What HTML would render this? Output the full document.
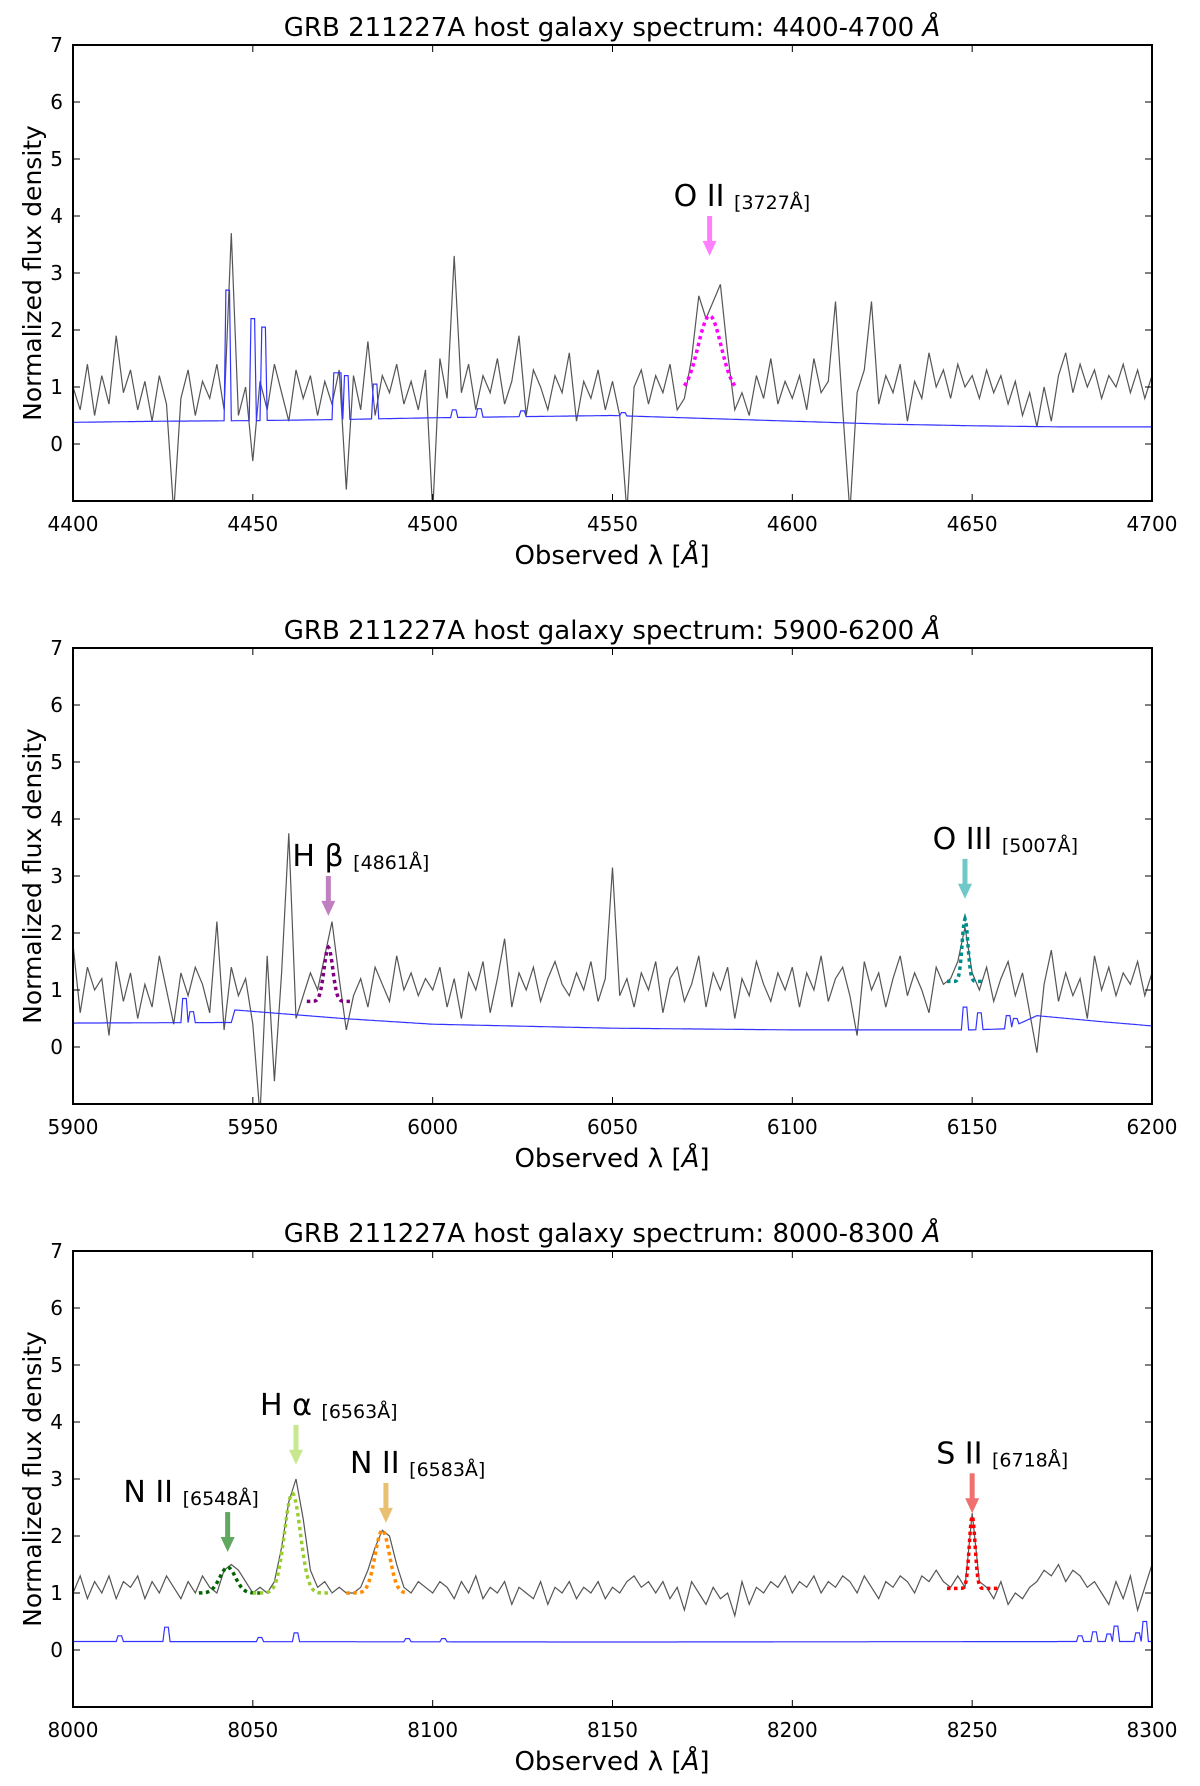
<!DOCTYPE html>
<html><head><meta charset="utf-8"><style>
html,body{margin:0;padding:0;background:#fff;}
svg{display:block;font-family:"DejaVu Sans","Liberation Sans",sans-serif;}
</style></head>
<body>
<svg id="fig" width="1200" height="1786" viewBox="0 0 1200 1786" xmlns="http://www.w3.org/2000/svg"></svg>
<script>
// ---------- data ----------
const xRanges = [[4400,4700],[5900,6200],[8000,8300]];
const fluxStart = [4400,5900,8000];
const fluxStep = 2;
const flux1 = [1.0,0.6,1.4,0.5,1.2,0.7,1.9,0.9,1.3,0.6,1.1,0.4,1.2,0.7,-1.2,0.8,1.3,0.5,1.1,0.8,1.4,0.6,3.7,0.5,1.0,
-0.3,1.1,0.6,1.4,0.9,0.4,1.3,0.8,1.2,0.5,1.1,0.7,1.3,-0.8,1.2,0.6,1.8,0.5,1.2,0.9,1.4,0.7,1.1,0.6,1.3,
-1.2,1.5,0.8,3.3,0.9,1.4,0.6,1.2,0.9,1.5,0.7,1.1,1.9,0.5,1.3,1.0,0.6,1.2,0.9,1.6,0.4,1.1,0.8,1.3,0.6,
1.1,0.5,-1.2,1.0,1.3,0.7,1.2,0.9,1.4,0.6,0.8,1.5,2.6,2.2,2.5,2.8,1.6,0.6,0.9,0.5,1.2,0.8,1.5,0.7,1.1,
0.8,1.2,0.6,1.5,0.9,1.1,2.5,0.6,-1.2,0.9,1.3,2.5,0.7,1.2,0.9,1.4,0.4,1.1,0.8,1.6,1.0,1.3,0.8,1.4,1.0,
1.2,0.8,1.3,0.9,1.2,0.7,1.1,0.5,0.9,0.3,1.0,0.4,1.2,1.6,0.9,1.4,1.0,1.3,0.8,1.2,1.0,1.4,0.9,1.3,0.8,1.2];
const flux2 = [1.8,0.6,1.4,1.0,1.2,0.2,1.5,0.8,1.3,0.5,1.1,0.7,1.6,1.0,0.4,1.3,0.9,1.4,1.1,0.6,2.2,0.3,1.4,0.9,1.2,
0.4,-1.2,1.6,-0.6,1.3,3.75,0.5,0.9,1.3,1.0,1.6,2.2,1.2,0.3,0.9,1.2,0.7,1.4,1.1,0.8,1.6,1.0,1.3,0.9,1.2,
1.0,1.4,0.7,1.2,0.5,1.3,1.0,1.5,0.6,1.2,1.9,0.7,1.3,1.0,1.4,0.8,1.2,1.5,1.1,0.9,1.3,1.0,1.5,0.8,1.2,
3.15,0.9,1.2,0.7,1.3,1.0,1.5,0.6,1.2,1.4,0.8,1.1,1.6,0.7,1.3,1.0,1.4,0.5,1.2,0.9,1.5,1.1,0.8,1.3,1.0,
1.4,0.7,1.3,1.0,1.6,0.8,1.2,1.4,0.9,0.2,1.5,1.0,1.3,0.7,1.2,1.6,0.9,1.3,1.0,0.6,1.4,1.1,1.2,1.5,2.1,
1.3,1.0,1.4,0.8,1.2,1.5,0.9,1.3,0.6,-0.1,1.1,1.7,0.8,1.3,0.9,1.2,0.5,1.6,1.0,1.4,0.9,1.3,1.1,1.5,0.9,1.3];
const flux3 = [1.0,1.3,0.9,1.2,1.0,1.3,0.9,1.2,1.1,1.3,0.9,1.2,1.0,1.3,1.1,0.9,1.2,1.0,1.3,1.1,1.0,1.4,1.5,1.4,1.2,
1.0,1.1,1.0,1.2,1.8,2.6,3.0,2.3,1.4,1.1,1.2,1.0,1.1,1.0,1.0,1.1,1.4,1.8,2.1,2.0,1.5,1.1,1.0,1.2,1.1,
1.0,1.2,1.1,0.9,1.2,1.0,1.3,0.9,1.1,1.0,1.2,0.8,1.1,1.0,0.9,1.2,0.8,1.1,1.0,1.2,0.9,1.1,1.0,1.2,0.9,
1.1,1.0,1.2,1.3,1.1,1.2,1.0,1.2,0.9,1.1,0.7,1.2,1.0,0.8,1.1,0.9,1.0,0.6,1.2,0.8,1.1,1.0,1.2,1.1,1.3,
1.0,1.2,1.1,1.3,1.0,1.2,1.1,1.3,1.2,1.0,1.3,1.1,0.9,1.2,1.1,1.3,1.2,1.0,1.3,1.2,1.4,1.2,1.1,1.3,1.1,
2.4,1.2,1.1,0.9,1.2,0.8,1.0,0.9,1.1,1.2,1.4,1.3,1.5,1.2,1.4,1.3,1.1,1.2,1.0,0.8,1.2,0.9,1.3,0.7,1.1,1.5];
// sky continuum
const skyWave1 = [4400,4425,4450,4475,4500,4525,4550,4575,4600,4625,4650,4675,4700];
const skyFlux1 = [0.38,0.40,0.41,0.43,0.46,0.48,0.50,0.45,0.40,0.35,0.32,0.30,0.30];
const skyWave2 = [5900,5944,5945,5975,6000,6050,6100,6150,6160,6168,6185,6200];
const skyFlux2 = [0.42,0.43,0.65,0.50,0.40,0.33,0.30,0.30,0.32,0.55,0.45,0.37];
const skyWave3 = [8000,8150,8300];
const skyFlux3 = [0.15,0.14,0.15];
// sky lines
const skyLineW1 = [4443,4450,4453,4473,4474,4476,4484,4506,4513,4525,4553];
const skyLineH1 = [2.7,2.2,2.05,1.25,1.25,1.2,1.05,0.6,0.62,0.58,0.55];
const skyLineW2 = [5931,5933,6148,6152,6160,6162];
const skyLineH2 = [0.85,0.62,0.7,0.6,0.55,0.5];
const skyLineW3 = [8013,8026,8052,8062,8093,8103,8280,8284,8288,8290,8296,8298];
const skyLineH3 = [0.25,0.4,0.22,0.3,0.2,0.2,0.25,0.32,0.28,0.42,0.3,0.5];
// line fits
const fitPanel = [0,1,1,2,2,2,2];
const fitCenter = [4577,5971,6148,8043,8061,8086,8250];
const fitPeak = [2.25,1.75,2.25,1.45,2.75,2.1,2.35];
const fitSigma = [3.2,1.2,0.8,2.2,2.2,2.0,0.8];
const fitBase = [0.9,0.8,1.15,1.0,1.0,1.0,1.08];
const fitLo = [4570,5965,6143,8035,8050,8076,8243];
const fitHi = [4584,5977,6153,8052,8072,8093,8257];
const fitColor = ["#ff00ff","#800080","#008b8b","#006400","#9acd32","#ff8c00","#ff0000"];
// annotations
const annName = ["O II","H β","O III","N II","H α","N II","S II"];
const annRest = ["[3727Å]","[4861Å]","[5007Å]","[6548Å]","[6563Å]","[6583Å]","[6718Å]"];
const annWave = [4577,5971,6148,8043,8062,8087,8250];
const annTop = [4.0,3.0,3.3,2.42,3.95,2.93,3.1];
const annTextX = [4567,5961,6139,8014,8052,8077,8240];
const annColor = ["#ff80ff","#c080c0","#70c8c8","#60a860","#c8e890","#e8c070","#f07070"];
const yTicks = [0,1,2,3,4,5,6,7];

// ---------- layout ----------
const NS="http://www.w3.org/2000/svg";
const svg=document.getElementById('fig');
const L=73, R=1152, H=456, tops=[45,648,1251], YMIN=-1, YMAX=7;
function mk(tag,attrs,parent){const e=document.createElementNS(NS,tag);for(const k in attrs)e.setAttribute(k,attrs[k]);(parent||svg).appendChild(e);return e;}
const fluxes=[flux1,flux2,flux3];
const skyW=[skyWave1,skyWave2,skyWave3], skyF=[skyFlux1,skyFlux2,skyFlux3];
const slW=[skyLineW1,skyLineW2,skyLineW3], slH=[skyLineH1,skyLineH2,skyLineH3];

for(let p=0;p<3;p++){
  const T=tops[p], B=T+H, x0=xRanges[p][0], x1=xRanges[p][1];
  const X=v=>L+(v-x0)/(x1-x0)*(R-L);
  const Y=v=>B-(v-YMIN)/(YMAX-YMIN)*H;
  const g=mk('g',{});
  
  
  const cp=mk('clipPath',{id:'clip'+p},g);
  mk('rect',{x:L,y:T,width:R-L,height:H},cp);
  const plot=mk('g',{'clip-path':'url(#clip'+p+')'},g);
  let d='';
  fluxes[p].forEach((v,i)=>{d+=(i?'L':'M')+X(fluxStart[p]+i*fluxStep).toFixed(1)+','+Y(v).toFixed(1);});
  const fl=mk('path',{d:d,fill:'none',stroke:'#555','stroke-width':1.2},plot);
  
  
  const pts=[];
  for(let w=x0;w<=x1;w+=0.5){
    let k=0;while(k<skyW[p].length-2&&w>skyW[p][k+1])k++;
    const a=skyW[p][k],b=skyW[p][k+1];
    let base=skyF[p][k]+(skyF[p][k+1]-skyF[p][k])*Math.max(0,Math.min(1,(w-a)/(b-a)));
    let v=base;
    slW[p].forEach((lw,j)=>{if(Math.abs(w-lw)<0.6)v=Math.max(v,slH[p][j]);});
    pts.push([w,v]);
  }
  d='';pts.forEach((q,i)=>{d+=(i?'L':'M')+X(q[0]).toFixed(1)+','+Y(q[1]).toFixed(1);});
  const sk=mk('path',{d:d,fill:'none',stroke:'#3333ff','stroke-width':1.2},plot);
  
  
  fitPanel.forEach((fp,j)=>{
    if(fp!==p)return;
    let dd='';
    for(let w=fitLo[j],i=0;w<=fitHi[j]+0.01;w+=0.25,i++){
      const v=fitBase[j]+(fitPeak[j]-fitBase[j])*Math.exp(-0.5*Math.pow((w-fitCenter[j])/fitSigma[j],2));
      dd+=(i?'L':'M')+X(w).toFixed(1)+','+Y(v).toFixed(1);
    }
    const fe=mk('path',{d:dd,fill:'none',stroke:fitColor[j],'stroke-width':3.5,'stroke-dasharray':'3.5,3.5'},plot);
    
    
  });
  annWave.forEach((aw,j)=>{
    if(fitPanel[j]!==p)return;
    const ax=X(aw), ay=Y(annTop[j]), ah=Y(annTop[j]-0.7);
    const ar=mk('g',{},g);
    
    
    mk('rect',{x:ax-2.5,y:ay,width:5,height:ah-ay-14,fill:annColor[j]},ar);
    mk('polygon',{points:(ax-7)+','+(ah-15)+' '+(ax+7)+','+(ah-15)+' '+ax+','+ah,fill:annColor[j]},ar);
    const t=mk('text',{x:X(annTextX[j]),y:ay-10,'font-size':30,fill:'#000'},g);
    
    
    t.textContent=annName[j]+' ';
    const ts=mk('tspan',{'font-size':19,dy:3},t);
    ts.textContent=annRest[j];
  });
  const fr=mk('rect',{x:L,y:T,width:R-L,height:H,fill:'none',stroke:'#000','stroke-width':2},g);
  
  
  for(let v=x0;v<=x1;v+=50){
    const xx=X(v);
    mk('line',{x1:xx,y1:B,x2:xx,y2:B-7,stroke:'#000','stroke-width':1},g);
    mk('line',{x1:xx,y1:T,x2:xx,y2:T+7,stroke:'#000','stroke-width':1},g);
    const t=mk('text',{x:xx,y:B+30,'font-size':20,'text-anchor':'middle'},g);
    
    
    t.textContent=v;
  }
  yTicks.forEach(v=>{
    const yy=Y(v);
    mk('line',{x1:L,y1:yy,x2:L+7,y2:yy,stroke:'#000','stroke-width':1},g);
    mk('line',{x1:R,y1:yy,x2:R-7,y2:yy,stroke:'#000','stroke-width':1},g);
    const t=mk('text',{x:63,y:yy+7,'font-size':20,'text-anchor':'end'},g);
    
    
    t.textContent=v;
  });
  const ti=mk('text',{x:612,y:T-9,'font-size':26,'text-anchor':'middle'},g);
  
  
  ti.textContent='GRB 211227A host galaxy spectrum: '+x0+'-'+x1+' ';
  const ang=mk('tspan',{'font-style':'italic'},ti);ang.textContent='Å';
  const xl=mk('text',{x:612,y:B+63,'font-size':26,'text-anchor':'middle'},g);
  
  
  xl.textContent='Observed λ [';
  const a2=mk('tspan',{'font-style':'italic'},xl);a2.textContent='Å';
  const a3=mk('tspan',{},xl);a3.textContent=']';
  const yl=mk('text',{x:0,y:0,'font-size':25,'text-anchor':'middle',transform:'translate(41,'+(T+H/2)+') rotate(-90)'},g);
  
  
  yl.textContent='Normalized flux density';
}
</script>
</body></html>
